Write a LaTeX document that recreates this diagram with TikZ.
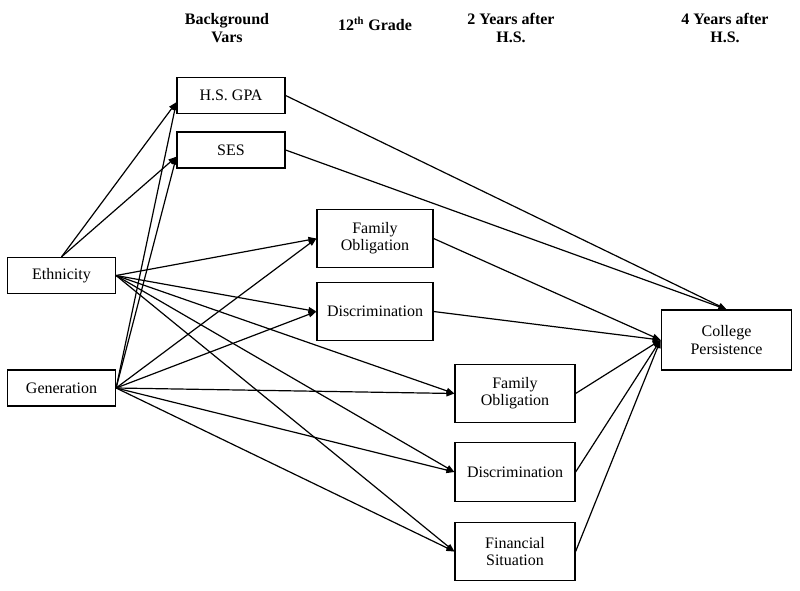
\documentclass[tikz,border=0pt]{standalone}
\usepackage{fontspec}
\setmainfont{Liberation Serif}
\usepackage{tikz}
\usetikzlibrary{arrows.meta}

\tikzset{
    varbox/.style={draw=black, line width=0.9pt, align=center, inner sep=0pt, font=\fontsize{12}{13}\selectfont},
    path/.style={black, line width=0.9pt, -{Triangle[length=6pt,width=4.5pt]}},
    header/.style={align=center, font=\fontsize{12}{14}\bfseries}
}

\begin{document}
\begin{tikzpicture}[x=0.75pt,y=-0.75pt]
                \useasboundingbox (0,0) rectangle (800,590);

                % Column headers
                \node[header] (hbg) at (227, 28) {Background\\Vars};
                \node[header] (hgr) at (375, 24) {12\textsuperscript{th} Grade};
                \node[header] (hy2) at (511, 28) {2 Years after\\H.S.};
                \node[header] (hy4) at (725, 28) {4 Years after\\H.S.};

                % Background variables
                \node[varbox, minimum width=81pt, minimum height=27pt] (eth) at (61.5, 275.5) {Ethnicity};
                \node[varbox, minimum width=81pt, minimum height=27pt] (gen) at (61.5, 388) {Generation};
                \node[varbox, minimum width=81pt, minimum height=27pt] (gpa) at (231, 95.5) {H.S. GPA};
                \node[varbox, minimum width=81pt, minimum height=27pt] (ses) at (231, 150) {SES};

                % 12th grade
                \node[varbox, minimum width=87pt, minimum height=44pt] (fo1) at (375, 238.5) {Family\\Obligation};
                \node[varbox, minimum width=87pt, minimum height=44pt] (dis1) at (375, 311.5) {Discrimination};

                % 2 years after H.S.
                \node[varbox, minimum width=90pt, minimum height=44pt] (fo2) at (515, 393.5) {Family\\Obligation};
                \node[varbox, minimum width=90pt, minimum height=44pt] (dis2) at (515, 472) {Discrimination};
                \node[varbox, minimum width=90pt, minimum height=44pt] (fin) at (515, 551.5) {Financial\\Situation};

                % Outcome
                \node[varbox, minimum width=98pt, minimum height=45pt] (cp) at (726.5, 340) {College\\Persistence};

                % Paths from the background variables
                \foreach \t in {gpa, ses}
                    \draw[path] (eth.north) -- (\t.187);
                \foreach \t in {gpa, ses}
                    \draw[path] (gen.east) -- (\t.187);
                \foreach \t in {fo1, dis1, fo2, dis2, fin}
                    \draw[path] (eth.east) -- (\t.west);
                \foreach \t in {fo1, dis1, fo2, dis2, fin}
                    \draw[path] (gen.east) -- (\t.west);

                % Paths to college persistence
                \foreach \s in {gpa, ses}
                    \draw[path] (\s.east) -- (cp.north);
                \foreach \s in {fo1, dis1, fo2, dis2, fin}
                    \draw[path] (\s.east) -- (cp.west);
            \end{tikzpicture}
\end{document}
